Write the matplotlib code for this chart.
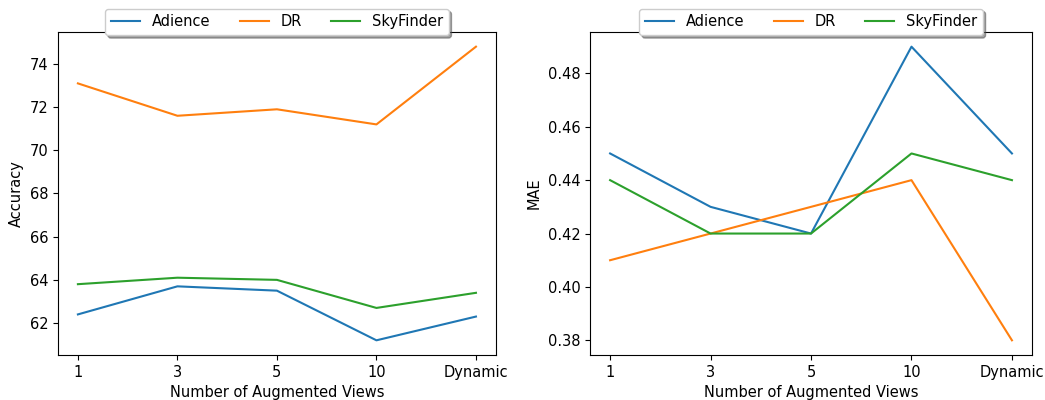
import matplotlib
matplotlib.use('Agg')
import matplotlib.pyplot as plt

views = ['1', '3', '5', '10', 'Dynamic']
datasets = ['Adience', 'DR', 'SkyFinder']

# Accuracy per dataset
acc_adience = [62.4, 63.7, 63.5, 61.2, 62.3]
acc_dr = [73.1, 71.6, 71.9, 71.2, 74.8]
acc_skyfinder = [63.8, 64.1, 64.0, 62.7, 63.4]

# MAE per dataset
mae_adience = [0.45, 0.43, 0.42, 0.49, 0.45]
mae_dr = [0.41, 0.42, 0.43, 0.44, 0.38]
mae_skyfinder = [0.44, 0.42, 0.42, 0.45, 0.44]


def main():
    plt.rcParams['font.size'] = 10.5
    fig = plt.figure(figsize=(10.45, 4.0), dpi=100)
    ax1 = fig.add_axes([0.0555, 0.1125, 0.419, 0.8075])
    ax2 = fig.add_axes([0.5646, 0.1125, 0.423, 0.8075])

    x = list(range(len(views)))

    for ax, series, ylabel in [
        (ax1, [acc_adience, acc_dr, acc_skyfinder], 'Accuracy'),
        (ax2, [mae_adience, mae_dr, mae_skyfinder], 'MAE'),
    ]:
        for name, vals in zip(datasets, series):
            ax.plot(x, vals, label=name)
        ax.set_xticks(x)
        ax.set_xticklabels(views)
        ax.set_xlabel('Number of Augmented Views')
        ax.set_ylabel(ylabel)
        ax.legend(loc='upper center', bbox_to_anchor=(0.5, 1.095), ncol=3, shadow=True)

    fig.savefig('out.png', dpi=100)


if __name__ == '__main__':
    main()
